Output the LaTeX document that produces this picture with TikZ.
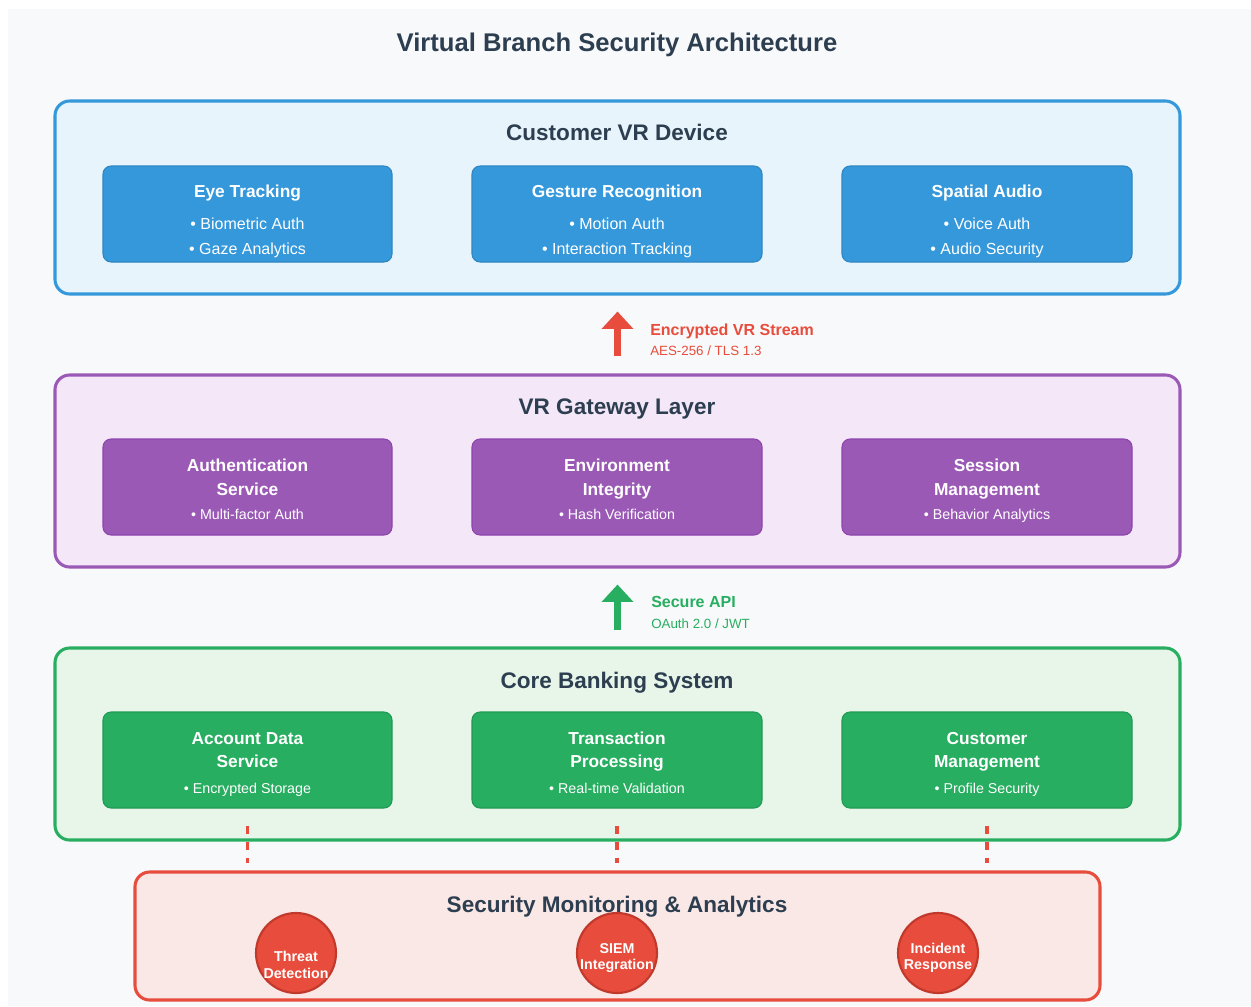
\documentclass[tikz,border=0pt]{standalone}
\usepackage{fontspec}
\setmainfont{Liberation Sans}
\usetikzlibrary{fit,arrows.meta}

\definecolor{pagebg}{HTML}{F8F9FA}
\definecolor{ink}{HTML}{2C3E50}
\definecolor{vblue}{HTML}{3498DB}
\definecolor{vblueD}{HTML}{2E86C1}
\definecolor{vblueL}{HTML}{E8F4FB}
\definecolor{vpurple}{HTML}{9B59B6}
\definecolor{vpurpleD}{HTML}{8E44AD}
\definecolor{vpurpleL}{HTML}{F3E7F8}
\definecolor{vgreen}{HTML}{27AE60}
\definecolor{vgreenD}{HTML}{229954}
\definecolor{vgreenL}{HTML}{E8F6EA}
\definecolor{vred}{HTML}{E74C3C}
\definecolor{vredD}{HTML}{C0392B}
\definecolor{vredL}{HTML}{FAE8E7}

\newcommand{\fsz}[1]{\fontsize{#1}{#1}\selectfont}

\tikzset{
  panel/.style={draw=#1, fill=#1L, line width=2.3pt, rounded corners=11pt, inner sep=0pt},
  card/.style={draw=#1D, fill=#1, line width=0.8pt, rounded corners=6pt, inner sep=0pt},
  txt/.style={anchor=base, inner sep=0pt, text=white},
  maintitle/.style={txt, text=ink, font=\bfseries\fsz{19.2pt}},
  paneltitle/.style={txt, text=ink, font=\bfseries\fsz{16.9pt}},
  cardtitle/.style={txt, font=\bfseries\fsz{13pt}},
  bulletbig/.style={txt, font=\fsz{12pt}},
  bulletsmall/.style={txt, font=\fsz{10.7pt}},
  flowtitle/.style={anchor=base west, inner sep=0pt, text=#1, font=\bfseries\fsz{12pt}},
  flowsub/.style={anchor=base west, inner sep=0pt, text=#1, font=\fsz{10pt}},
  flowarrow/.style={draw=#1, line width=5pt, -{Triangle[width=23pt,length=13pt]}},
  monitor/.style={circle, draw=vredD, fill=vred, line width=1.6pt, minimum size=60pt, inner sep=0pt},
  circletext/.style={txt, font=\bfseries\fsz{10.7pt}},
  tap/.style={draw=vred, line width=2.3pt, dash pattern=on 6pt off 6pt},
}

\begin{document}
\begin{tikzpicture}[x=0.75pt, y=-0.75pt]
\useasboundingbox (0,0) rectangle (1251,1006);
\fill[white] (0,0) rectangle (1251,1006);
\fill[pagebg] (8,9) rectangle (1251,1006);

\node[maintitle] (title) at (617,52) {Virtual Branch Security Architecture};

% ---- Customer VR Device ----
\node[panel=vblue, fit={(55,101) (1180,294)}] (dev) {};
\node[paneltitle] (devT) at (617,140) {Customer VR Device};
\node[card=vblue, fit={(103,166) (392,262)}] (eye) {};
\node[card=vblue, fit={(472,166) (762,262)}] (gest) {};
\node[card=vblue, fit={(842,166) (1132,262)}] (audio) {};
\node[cardtitle] (eyeT) at (eye.center |- 0,197) {Eye Tracking};
\node[bulletbig] (eyeA) at (eye.center |- 0,229) {• Biometric Auth};
\node[bulletbig] (eyeB) at (eye.center |- 0,254) {• Gaze Analytics};
\node[cardtitle] (gestT) at (gest.center |- 0,197) {Gesture Recognition};
\node[bulletbig] (gestA) at (gest.center |- 0,229) {• Motion Auth};
\node[bulletbig] (gestB) at (gest.center |- 0,254) {• Interaction Tracking};
\node[cardtitle] (audioT) at (audio.center |- 0,197) {Spatial Audio};
\node[bulletbig] (audioA) at (audio.center |- 0,229) {• Voice Auth};
\node[bulletbig] (audioB) at (audio.center |- 0,254) {• Audio Security};

% ---- VR Gateway Layer ----
\node[panel=vpurple, fit={(55,375) (1180,567)}] (gw) {};
\node[paneltitle] (gwT) at (617,414) {VR Gateway Layer};
\node[card=vpurple, fit={(103,439) (392,535)}] (auth) {};
\node[card=vpurple, fit={(472,439) (762,535)}] (env) {};
\node[card=vpurple, fit={(842,439) (1132,535)}] (sess) {};
\node[cardtitle] (authT1) at (auth.center |- 0,471) {Authentication};
\node[cardtitle] (authT2) at (auth.center |- 0,495) {Service};
\node[bulletsmall] (authA) at (auth.center |- 0,519) {• Multi-factor Auth};
\node[cardtitle] (envT1) at (env.center |- 0,471) {Environment};
\node[cardtitle] (envT2) at (env.center |- 0,495) {Integrity};
\node[bulletsmall] (envA) at (env.center |- 0,519) {• Hash Verification};
\node[cardtitle] (sessT1) at (sess.center |- 0,471) {Session};
\node[cardtitle] (sessT2) at (sess.center |- 0,495) {Management};
\node[bulletsmall] (sessA) at (sess.center |- 0,519) {• Behavior Analytics};

% ---- Core Banking System ----
\node[panel=vgreen, fit={(55,648) (1180,840)}] (core) {};
\node[paneltitle] (coreT) at (617,688) {Core Banking System};
\node[card=vgreen, fit={(103,712) (392,808)}] (acct) {};
\node[card=vgreen, fit={(472,712) (762,808)}] (txn) {};
\node[card=vgreen, fit={(842,712) (1132,808)}] (cust) {};
\node[cardtitle] (acctT1) at (acct.center |- 0,744) {Account Data};
\node[cardtitle] (acctT2) at (acct.center |- 0,767) {Service};
\node[bulletsmall] (acctA) at (acct.center |- 0,793) {• Encrypted Storage};
\node[cardtitle] (txnT1) at (txn.center |- 0,744) {Transaction};
\node[cardtitle] (txnT2) at (txn.center |- 0,767) {Processing};
\node[bulletsmall] (txnA) at (txn.center |- 0,793) {• Real-time Validation};
\node[cardtitle] (custT1) at (cust.center |- 0,744) {Customer};
\node[cardtitle] (custT2) at (cust.center |- 0,767) {Management};
\node[bulletsmall] (custA) at (cust.center |- 0,793) {• Profile Security};

% ---- Security Monitoring & Analytics ----
\node[panel=vred, fit={(135,872) (1100,1000)}] (mon) {};
\node[paneltitle] (monT) at (617,912) {Security Monitoring \& Analytics};
\node[monitor] (thr) at (296,953) {};
\node[monitor] (siem) at (617,953) {};
\node[monitor] (inc) at (938,953) {};
\node[circletext] (thrA) at (296,961) {Threat};
\node[circletext] (thrB) at (296,978) {Detection};
\node[circletext] (siemA) at (617,953) {SIEM};
\node[circletext] (siemB) at (617,969) {Integration};
\node[circletext] (incA) at (938,953) {Incident};
\node[circletext] (incB) at (938,969) {Response};

% ---- data flows between layers ----
\draw[flowarrow=vred, shorten <=12.75pt, shorten >=12pt] (gw.north) -- (dev.south);
\node[flowtitle=vred] (encT) at (650,335) {Encrypted VR Stream};
\node[flowsub=vred] (encS) at (650,355) {AES-256 / TLS 1.3};

\draw[flowarrow=vgreen, shorten <=12pt, shorten >=12pt] (core.north) -- (gw.south);
\node[flowtitle=vgreen] (apiT) at (651,607) {Secure API};
\node[flowsub=vgreen] (apiS) at (651,628) {OAuth 2.0 / JWT};

% ---- monitoring taps ----
\draw[tap, shorten <=12.75pt, shorten >=5.25pt] (acct.south) -- (acct.south |- mon.north);
\draw[tap, shorten <=12.75pt, shorten >=5.25pt] (txn.south) -- (txn.south |- mon.north);
\draw[tap, shorten <=12.75pt, shorten >=5.25pt] (cust.south) -- (cust.south |- mon.north);
\end{tikzpicture}
\end{document}
